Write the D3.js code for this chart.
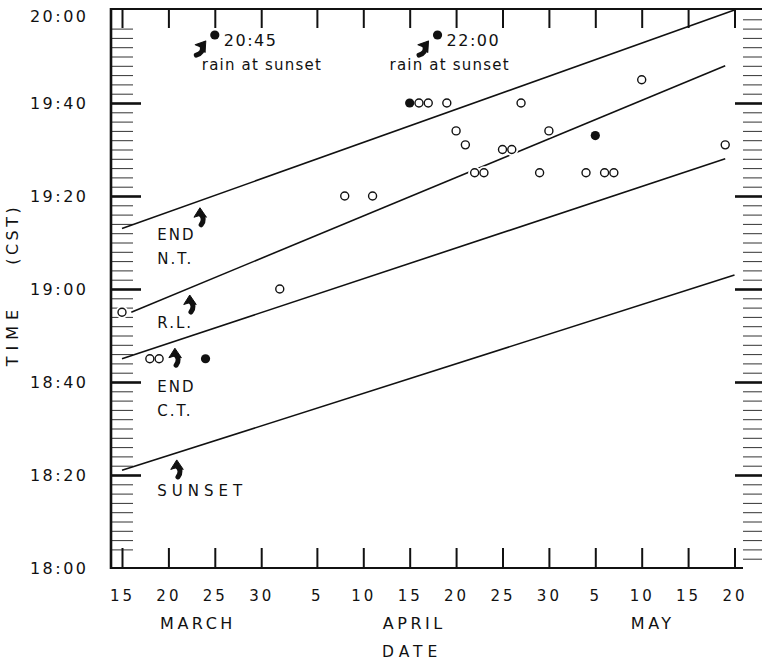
<!DOCTYPE html>
<html>
<head>
<meta charset="utf-8">
<script src="https://cdn.jsdelivr.net/npm/d3@7"></script>
<style>
  body { margin: 0; background: #fff; }
  text { font-family: "DejaVu Sans", sans-serif; fill: #111; }
</style>
</head>
<body>
<div id="chart"></div>
<script>
/////////////////////////////////////////////////////////////// Data //////////////////////////////////////////////////////////////
// observations: date (MM-DD), time CST, filled marker or not
const obsDates = ["03-15","03-18","03-19","03-24","04-01","04-08","04-11","04-15","04-16","04-17","04-19","04-20","04-21",
                  "04-22","04-23","04-25","04-26","04-27","04-29","04-30","05-04","05-05","05-06","05-07","05-10","05-19"];
const obsTimes = ["18:55","18:45","18:45","18:45","19:00","19:20","19:20","19:40","19:40","19:40","19:40","19:34","19:31",
                  "19:25","19:25","19:30","19:30","19:40","19:25","19:34","19:25","19:33","19:25","19:25","19:45","19:31"];
const obsFilled = [0,0,0,1,0,0,0,1,0,0,0,0,0,0,0,0,0,0,0,0,0,1,0,0,0,0];

// off-scale events (plotted along the top)
const rainDates = ["03-25","04-18"];
const rainTimes = ["20:45","22:00"];
const rainNote = "rain at sunset";

// reference lines
const lineLabels = [["END","N.T."],["R.L."],["END","C.T."],["SUNSET"]];
const lineStartDates = ["03-15","03-16","03-15","03-15"];
const lineStartTimes = ["19:13","18:55","18:45","18:21"];
const lineEndDates = ["05-20","05-19","05-19","05-20"];
const lineEndTimes = ["20:00","19:48","19:28","19:03"];

// axes
const dateTicks = ["03-15","03-20","03-25","03-30","04-05","04-10","04-15","04-20","04-25","04-30","05-05","05-10","05-15","05-20"];
const monthNames = ["MARCH","APRIL","MAY"];
const monthAnchors = ["03-23","04-15.3","05-11"];
const timeTicks = ["18:00","18:20","18:40","19:00","19:20","19:40","20:00"];

/////////////////////////////////////////////////////////////// Helpers ///////////////////////////////////////////////////////////
const parseDate = s => {
  const [m, d] = s.split("-").map(Number);
  return new Date(Date.UTC(1960, m - 1, 1) + (d - 1) * 864e5);
};
const parseTime = s => {
  const [h, m] = s.split(":").map(Number);
  return h * 60 + m;
};
const fmtTime = v => d3.format("02")(Math.floor(v / 60)) + ":" + d3.format("02")(v % 60);

/////////////////////////////////////////////////////////////// Set-Up ////////////////////////////////////////////////////////////
const W = 762, H = 662;
const frame = {left: 111, top: 9, bottom: 568, right: 743};

const x = d3.scaleUtc()
  .domain([parseDate(dateTicks[0]), parseDate(dateTicks[dateTicks.length - 1])])
  .range([122, 734.5]);

const y = d3.scaleLinear()
  .domain([parseTime("18:00"), parseTime("20:00")])
  .range([568, 10]);

const svg = d3.select("#chart")
  .append("svg")
    .attr("width", W)
    .attr("height", H);

/////////////////////////////////////////////////////////////// Ticks /////////////////////////////////////////////////////////////
const minorTimes = d3.range(parseTime("18:02"), parseTime("20:00"), 2).filter(v => v % 20 !== 0);
const majorTimes = timeTicks.map(parseTime);

// left: minor (skip the ones touching the frame)
svg.append("g")
  .attr("transform", `translate(${frame.left},0)`)
  .call(d3.axisLeft(y).tickValues(minorTimes.filter(v => v > parseTime("18:02") && v < parseTime("19:58")))
    .tickSize(-22).tickFormat(""))
  .call(g => g.select(".domain").remove())
  .call(g => g.selectAll("line").attr("stroke", "#333").attr("stroke-width", 1));

// left: major + labels
svg.append("g")
  .attr("transform", `translate(${frame.left},0)`)
  .call(d3.axisLeft(y).tickValues(majorTimes).tickSize(-30).tickPadding(22.5).tickFormat(fmtTime))
  .call(g => g.select(".domain").remove())
  .call(g => g.selectAll("line")
    .attr("stroke", "#111").attr("stroke-width", 2.6)
    .attr("opacity", d => (d === majorTimes[0] || d === majorTimes[majorTimes.length - 1]) ? 0 : 1))
  .call(g => g.selectAll("text")
    .attr("fill", "#111")
    .style("font-size", "16px")
    .style("letter-spacing", "2.5px")
    .attr("dy", d => d === majorTimes[majorTimes.length - 1] ? "0.7em" : "0.36em"));

// right side ticks (axis line itself is off the picture)
svg.append("g")
  .attr("transform", "translate(765,0)")
  .call(d3.axisRight(y).tickValues(minorTimes).tickSize(-22).tickFormat(""))
  .call(g => g.select(".domain").remove())
  .call(g => g.selectAll("line").attr("stroke", "#333").attr("stroke-width", 1));

svg.append("g")
  .attr("transform", "translate(765,0)")
  .call(d3.axisRight(y).tickValues(majorTimes.slice(1, -1)).tickSize(-30).tickFormat(""))
  .call(g => g.select(".domain").remove())
  .call(g => g.selectAll("line").attr("stroke", "#111").attr("stroke-width", 2.6));

// bottom date ticks + labels
svg.append("g")
  .attr("transform", `translate(0,${frame.bottom})`)
  .call(d3.axisBottom(x).tickValues(dateTicks.map(parseDate)).tickSize(-20).tickPadding(22)
    .tickFormat(d3.utcFormat("%-d")))
  .call(g => g.select(".domain").remove())
  .call(g => g.selectAll("line").attr("stroke", "#111").attr("stroke-width", 2))
  .call(g => g.selectAll("text")
    .attr("fill", "#111")
    .style("font-size", "15px")
    .style("letter-spacing", "3px"));

// top date ticks
svg.append("g")
  .attr("transform", `translate(0,${frame.top})`)
  .call(d3.axisTop(x).tickValues(dateTicks.map(parseDate)).tickSize(-19).tickFormat(""))
  .call(g => g.select(".domain").remove())
  .call(g => g.selectAll("line").attr("stroke", "#111").attr("stroke-width", 2));

/////////////////////////////////////////////////////////////// Frame /////////////////////////////////////////////////////////////
svg.append("line")
  .attr("x1", frame.left).attr("x2", frame.left)
  .attr("y1", frame.top - 1).attr("y2", frame.bottom + 1)
  .attr("stroke", "#111").attr("stroke-width", 2.6);
svg.append("line")
  .attr("x1", frame.left - 1).attr("x2", W)
  .attr("y1", frame.top).attr("y2", frame.top)
  .attr("stroke", "#111").attr("stroke-width", 2);
svg.append("line")
  .attr("x1", frame.left - 1).attr("x2", frame.right)
  .attr("y1", frame.bottom).attr("y2", frame.bottom)
  .attr("stroke", "#111").attr("stroke-width", 2);

/////////////////////////////////////////////////////////////// Axis titles ///////////////////////////////////////////////////////
svg.selectAll("text.month")
  .data(monthNames)
  .enter().append("text")
  .attr("class", "month")
  .attr("x", (d, i) => x(parseDate(monthAnchors[i])) + 1.75)
  .attr("y", 629)
  .attr("text-anchor", "middle")
  .style("font-size", "16px")
  .style("letter-spacing", "3.5px")
  .text(d => d);

svg.append("text")
  .attr("x", x(parseDate("04-15")) + 2.5)
  .attr("y", 657)
  .attr("text-anchor", "middle")
  .style("font-size", "15.5px")
  .style("letter-spacing", "5px")
  .text("DATE");

svg.append("text")
  .attr("transform", "translate(18,338) rotate(-90)")
  .attr("text-anchor", "middle")
  .style("font-size", "16px")
  .style("letter-spacing", "6px")
  .attr("dx", 3)
  .text("TIME");

svg.append("text")
  .attr("transform", "translate(18,236) rotate(-90)")
  .attr("text-anchor", "middle")
  .style("font-size", "16px")
  .style("letter-spacing", "3.5px")
  .attr("dx", 1.75)
  .text("(CST)");

/////////////////////////////////////////////////////////////// Lines /////////////////////////////////////////////////////////////
const lineData = lineLabels.map((l, i) => ({
  label: l,
  p0: [parseDate(lineStartDates[i]), parseTime(lineStartTimes[i])],
  p1: [parseDate(lineEndDates[i]), parseTime(lineEndTimes[i])]
}));

const line = d3.line()
  .x(d => x(d[0]))
  .y(d => y(d[1]));

svg.append("g")
  .selectAll("path")
  .data(lineData)
  .enter().append("path")
  .attr("d", d => line([d.p0, d.p1]))
  .attr("fill", "none")
  .attr("stroke", "#111")
  .attr("stroke-width", 1.6);

// pixel y of a line at a given date
const lineYAt = (d, date) => {
  const t = (date - d.p0[0]) / (d.p1[0] - d.p0[0]);
  return y(d.p0[1] + t * (d.p1[1] - d.p0[1]));
};

// labels under the lines
const labelDate = "03-18.8";
const labelTimes = ["19:10.5","18:51.6","18:37.8","18:15.5"];
const labelSpacing = ["2px","2px","2px","5px"];

svg.append("g")
  .selectAll("text")
  .data(lineData)
  .enter().append("text")
  .attr("x", x(parseDate(labelDate)))
  .attr("y", (d, i) => y(parseTime(labelTimes[i])))
  .style("font-size", "15px")
  .style("letter-spacing", (d, i) => labelSpacing[i])
  .each(function(d) {
    d3.select(this).selectAll("tspan")
      .data(d.label)
      .enter().append("tspan")
      .attr("x", x(parseDate(labelDate)))
      .attr("dy", (t, j) => j === 0 ? 0 : 24)
      .text(t => t);
  });

// arrows pointing up at each line
const arrowDates = ["03-23.4","03-22.3","03-20.7","03-20.9"];
const arrowHead = "M0,0 L6.5,9.5 L0.5,7.5 L-6,9.5 Z";
const arrowTail = "M0,6 C4,9 4.2,13 1.2,17";

const drawArrow = (g, tx, ty, rot) => {
  const a = g.append("g").attr("transform", `translate(${tx},${ty}) rotate(${rot})`);
  a.append("path").attr("d", arrowHead).attr("fill", "#111")
    .attr("stroke", "#111").attr("stroke-width", 1).attr("stroke-linejoin", "round");
  a.append("path").attr("d", arrowTail).attr("fill", "none")
    .attr("stroke", "#111").attr("stroke-width", 5).attr("stroke-linecap", "round");
};

const arrows = svg.append("g");
lineData.forEach((d, i) => {
  const dt = parseDate(arrowDates[i]);
  drawArrow(arrows, x(dt), lineYAt(d, dt) + 7, 0);
});

/////////////////////////////////////////////////////////////// Points ////////////////////////////////////////////////////////////
const obs = obsDates.map((d, i) => ({date: parseDate(d), time: parseTime(obsTimes[i]), filled: obsFilled[i]}));

// white halos so the lines break around the markers
svg.append("g")
  .selectAll("circle")
  .data(obs)
  .enter().append("circle")
  .attr("cx", d => x(d.date))
  .attr("cy", d => y(d.time))
  .attr("r", 6.5)
  .attr("fill", "#fff");

svg.append("g")
  .selectAll("circle")
  .data(obs)
  .enter().append("circle")
  .attr("cx", d => x(d.date))
  .attr("cy", d => y(d.time))
  .attr("r", d => d.filled ? 4.6 : 4)
  .attr("fill", d => d.filled ? "#111" : "#fff")
  .attr("stroke", "#111")
  .attr("stroke-width", d => d.filled ? 0 : 1.4);

/////////////////////////////////////////////////////////////// Rain notes ////////////////////////////////////////////////////////
const rainRow = y.range()[1] + 25;
const noteOffsets = [-13, -48];

rainDates.forEach((d, i) => {
  const px = x(parseDate(d));
  svg.append("circle")
    .attr("cx", px).attr("cy", rainRow)
    .attr("r", 4.6).attr("fill", "#111");
  svg.append("text")
    .attr("x", px + 9).attr("y", rainRow + 11)
    .style("font-size", "16px")
    .style("letter-spacing", "1.5px")
    .text(rainTimes[i]);
  svg.append("text")
    .attr("x", px + noteOffsets[i]).attr("y", rainRow + 35)
    .style("font-size", "15px")
    .style("letter-spacing", "1.2px")
    .text(rainNote);
  drawArrow(svg, px - 9, rainRow + 6, 38);
});
</script>
</body>
</html>
